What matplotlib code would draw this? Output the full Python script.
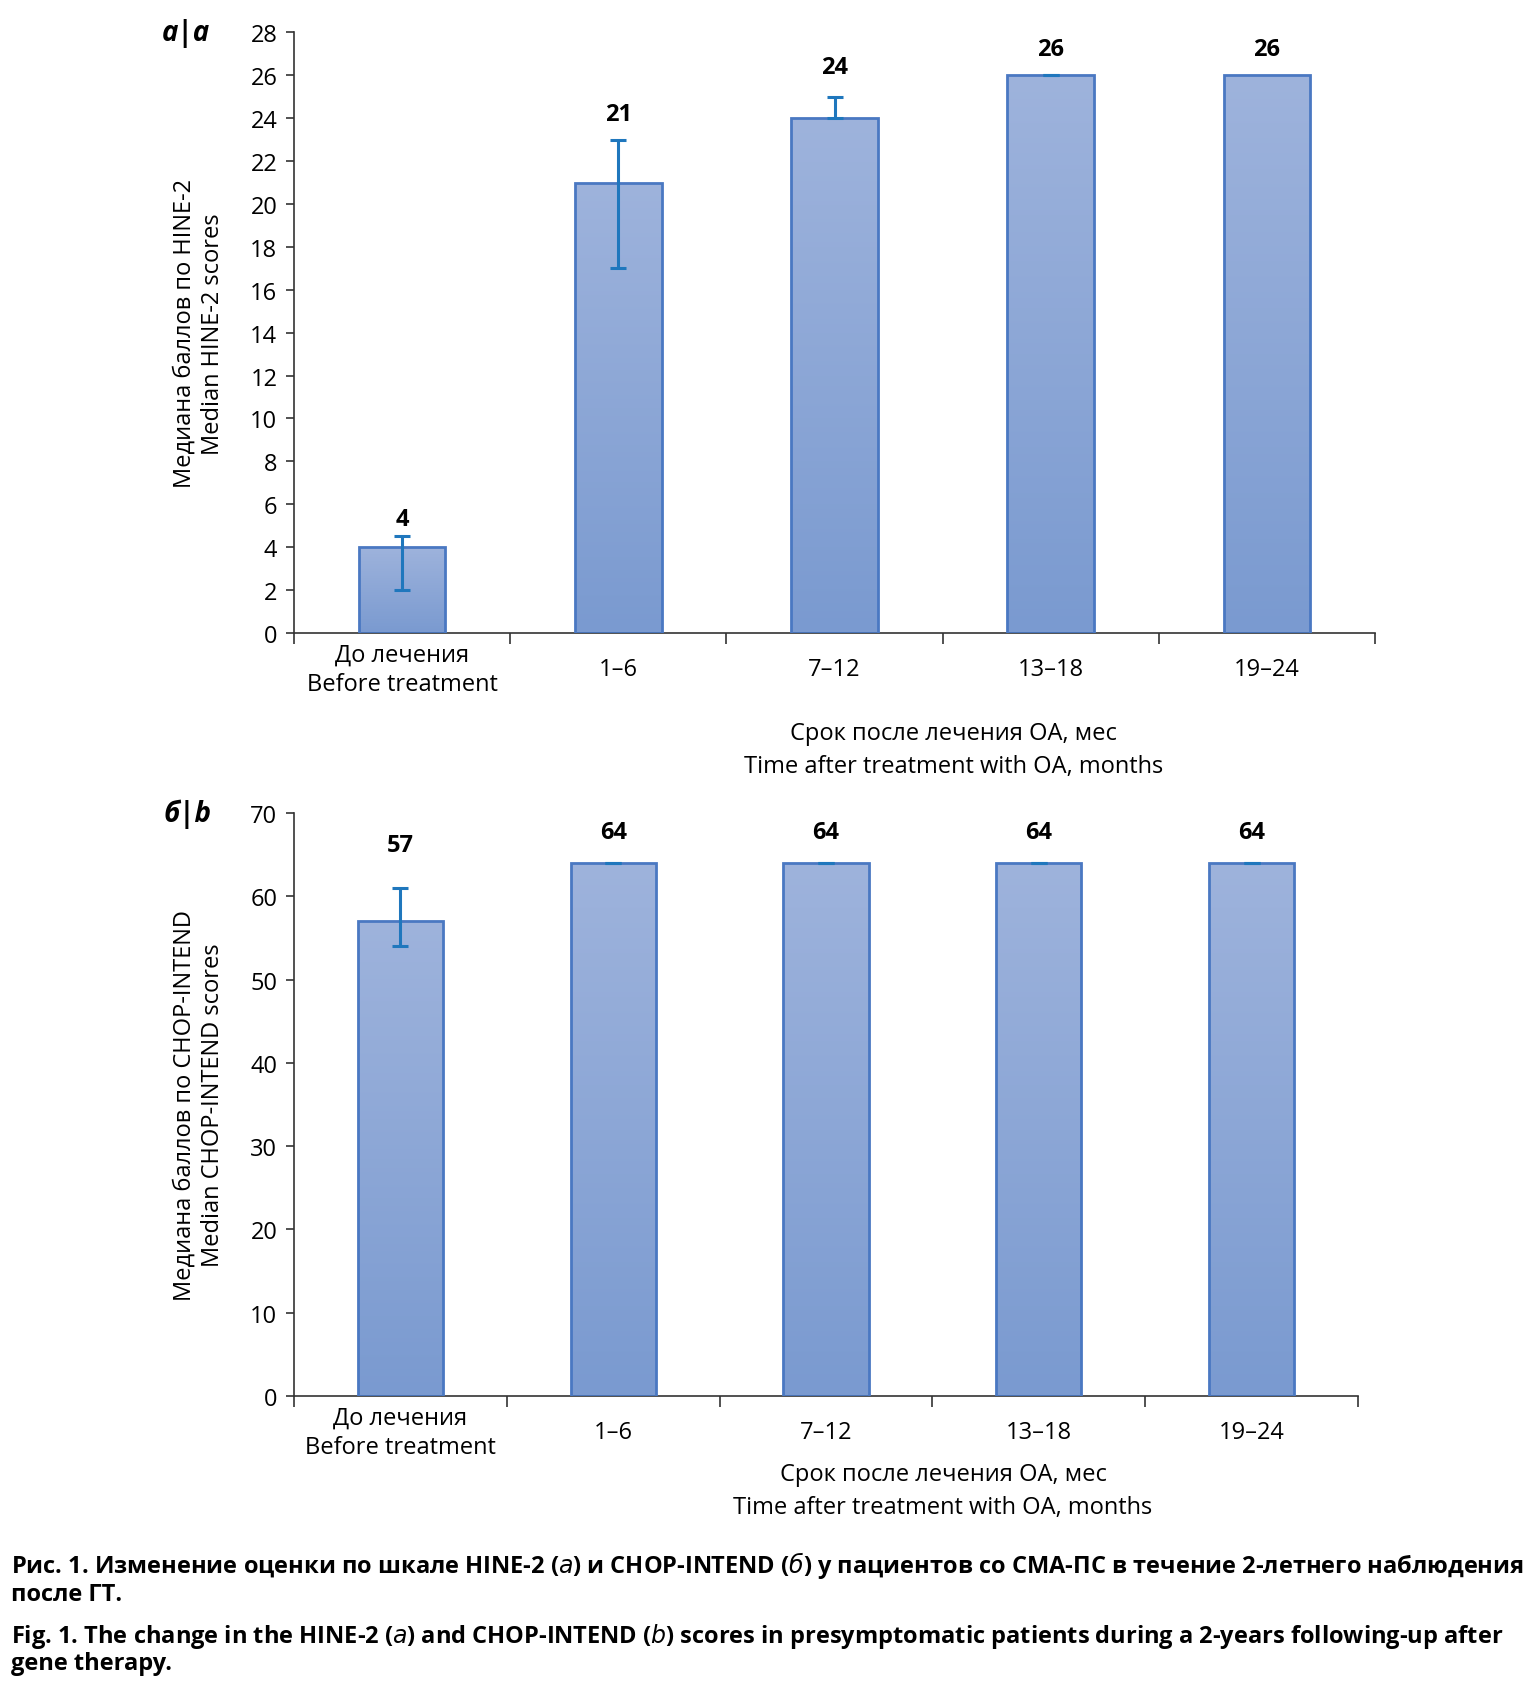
"""
Bar charts of median HINE-2 and CHOP-INTEND scores over time after gene therapy.
"""
import numpy as np
import matplotlib
matplotlib.use("Agg")
import matplotlib.pyplot as plt

plt.rcParams["font.family"] = ["Open Sans", "DejaVu Sans"]

categories = ["До лечения\nBefore treatment", "1–6", "7–12", "13–18", "19–24"]

hine_median = [4, 21, 24, 26, 26]
hine_low = [2, 17, 24, 26, np.nan]
hine_high = [4.5, 23, 25, 26, np.nan]

chop_median = [57, 64, 64, 64, 64]
chop_low = [54, 64, 64, 64, 64]
chop_high = [61, 64, 64, 64, 64]

hine_yticks = list(range(0, 29, 2))
chop_yticks = list(range(0, 71, 10))

xlabel_text = "Срок после лечения ОА, мес\nTime after treatment with OA, months"
hine_ylabel = "Медиана баллов по HINE-2\nMedian HINE-2 scores"
chop_ylabel = "Медиана баллов по CHOP-INTEND\nMedian CHOP-INTEND scores"

caption_ru = ("Рис. 1. Изменение оценки по шкале HINE-2 ($\\it{а}$) и CHOP-INTEND ($\\it{б}$) "
              "у пациентов со СМА-ПС в течение 2-летнего наблюдения\nпосле ГТ.")
caption_en = ("Fig. 1. The change in the HINE-2 ($\\it{a}$) and CHOP-INTEND ($\\it{b}$) scores "
              "in presymptomatic patients during a 2-years following-up after\ngene therapy.")

BAR_TOP = "#9eb3dc"
BAR_BOTTOM = "#7a9ad0"
EDGE = "#4a78c2"
ERR = "#1f77bd"
FS = 17


def gradient_bars(ax, values, width=0.4):
    grad = np.linspace(0, 1, 256).reshape(-1, 1)
    cmap = matplotlib.colors.LinearSegmentedColormap.from_list(
        "bar", [BAR_BOTTOM, BAR_TOP])
    bars = ax.bar(range(len(values)), values, width=width, facecolor="none",
                  edgecolor=EDGE, linewidth=2, zorder=3)
    for b in bars:
        x0, y0 = b.get_x(), b.get_y()
        im = ax.imshow(grad, extent=[x0, x0 + b.get_width(), y0, y0 + b.get_height()],
                       origin="lower", cmap=cmap, aspect="auto", zorder=2)
        im.set_clip_path(b)
    return bars


def draw_panel(ax, med, low, high, yticks, ylabel, panel, xlab_y, label_off):
    gradient_bars(ax, med)
    x = np.arange(len(med))
    med = np.array(med, float)
    low = np.array(low, float)
    high = np.array(high, float)
    ok = ~np.isnan(low)
    ax.errorbar(x[ok], med[ok], yerr=[med[ok] - low[ok], high[ok] - med[ok]],
                fmt="none", ecolor=ERR, elinewidth=2.2, capsize=6, capthick=2.2,
                zorder=4)
    for i, v in enumerate(med):
        top = high[i] if ok[i] else v
        ax.annotate(f"{int(v)}", (i, top), xytext=(0, label_off[i]),
                    textcoords="offset points", ha="center", va="bottom",
                    fontsize=FS, fontweight="bold")
    ax.set_xlim(-0.5, len(med) - 0.5)
    ax.set_ylim(yticks[0], yticks[-1])
    ax.set_yticks(yticks)
    ax.set_xticks(x)
    ax.set_xticklabels(categories, fontsize=FS, va="center", linespacing=1.3)
    ax.set_xticks(np.arange(-0.5, len(med), 1), minor=True)
    ax.tick_params(axis="x", which="major", length=0, pad=26)
    ax.tick_params(axis="x", which="minor", length=8, width=1.2, direction="out",
                   colors="#333333")
    ax.tick_params(axis="y", length=6, width=1.2, labelsize=FS, pad=6,
                   colors="#333333", labelcolor="black")
    for s in ["top", "right"]:
        ax.spines[s].set_visible(False)
    for s in ["left", "bottom"]:
        ax.spines[s].set_linewidth(1.2)
        ax.spines[s].set_color("#333333")
    ax.set_ylabel(ylabel, fontsize=FS, linespacing=1.25, labelpad=18)
    ax.text(0.61, xlab_y, xlabel_text, transform=ax.transAxes, ha="center",
            va="top", fontsize=FS, linespacing=1.5)
    ax.text(-0.1, 1.0, panel, transform=ax.transAxes, ha="center", va="center",
            fontsize=20, fontweight="bold", fontstyle="italic")


def main():
    fig = plt.figure(figsize=(15.37, 16.9), dpi=100)
    ax1 = fig.add_axes([0.1913, 0.6249, 0.7033, 0.3553])
    ax2 = fig.add_axes([0.1913, 0.1734, 0.6922, 0.3449])

    draw_panel(ax1, hine_median, hine_low, hine_high, hine_yticks, hine_ylabel,
               "а|a", -0.147, [4, 10, 13, 10, 10])
    draw_panel(ax2, chop_median, chop_low, chop_high, chop_yticks, chop_ylabel,
               "б|b", -0.114, [22, 14, 14, 14, 14])

    fig.text(0.007, 0.083, caption_ru, fontsize=17, fontweight="bold",
             va="top", ha="left", linespacing=1.1)
    fig.text(0.007, 0.0405, caption_en, fontsize=17, fontweight="bold",
             va="top", ha="left", linespacing=1.1)
    fig.savefig("out.png", dpi=100)


if __name__ == "__main__":
    main()
